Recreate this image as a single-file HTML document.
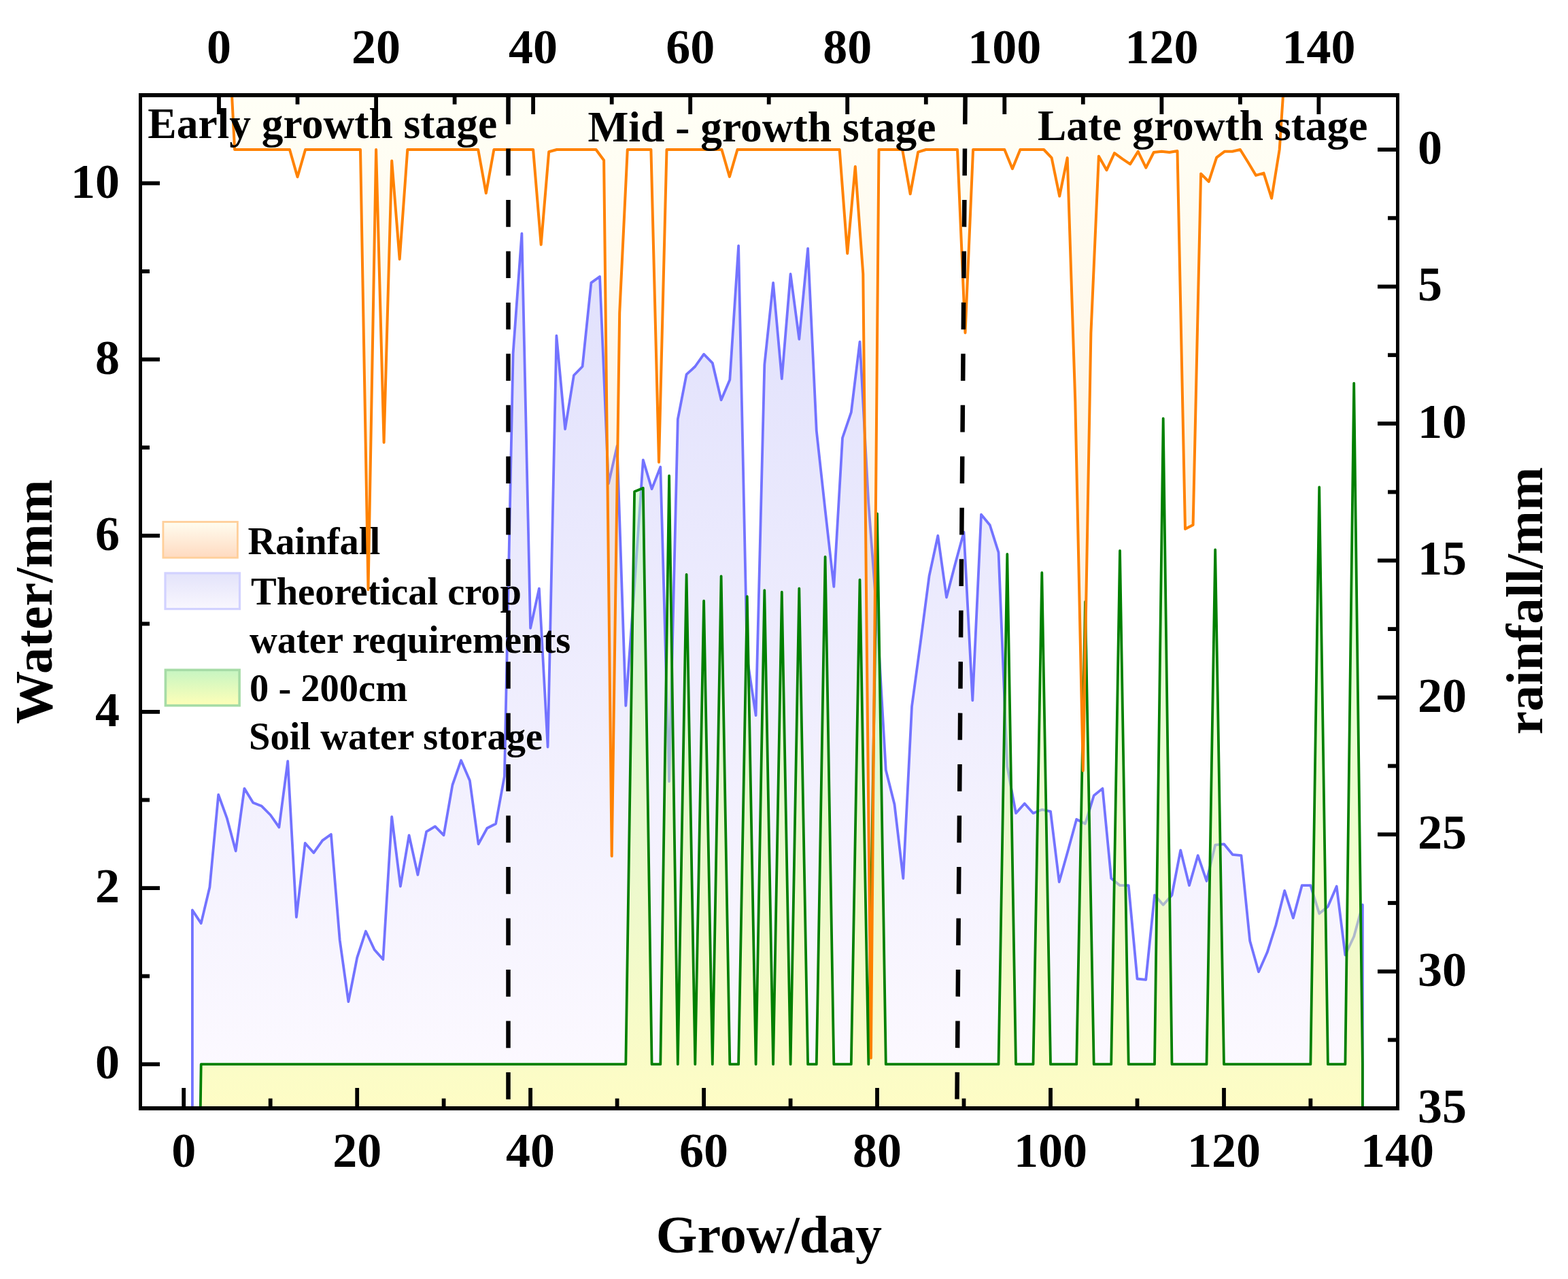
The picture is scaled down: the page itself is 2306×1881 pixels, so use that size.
<!DOCTYPE html>
<html><head><meta charset="utf-8"><title>Crop water chart</title>
<style>html,body{margin:0;padding:0;background:#fff;}svg{display:block;}</style>
</head><body>
<svg xmlns="http://www.w3.org/2000/svg" width="2306" height="1881" viewBox="0 0 2306 1881">
<defs>
<clipPath id="pc"><rect x="209" y="143" width="1844" height="1484"/></clipPath>
<linearGradient id="gb" gradientUnits="userSpaceOnUse" x1="0" y1="340" x2="0" y2="1630">
<stop offset="0" stop-color="#E0E0FC"/><stop offset="1" stop-color="#FDFAFF"/></linearGradient>
<linearGradient id="gg" gradientUnits="userSpaceOnUse" x1="0" y1="560" x2="0" y2="1630">
<stop offset="0" stop-color="#AAFFBE"/><stop offset="1" stop-color="#FFFF8C"/></linearGradient>
<linearGradient id="go" gradientUnits="userSpaceOnUse" x1="0" y1="143" x2="0" y2="1560">
<stop offset="0" stop-color="#FFFFD2"/><stop offset="1" stop-color="#FF8000"/></linearGradient>
<linearGradient id="lo" x1="0" y1="0" x2="0" y2="1">
<stop offset="0" stop-color="#FFFDF0"/><stop offset="1" stop-color="#FFDAC0"/></linearGradient>
<linearGradient id="lb" x1="0" y1="0" x2="0" y2="1">
<stop offset="0" stop-color="#E3E3FA"/><stop offset="1" stop-color="#F9F7FE"/></linearGradient>
<linearGradient id="lg" x1="0" y1="0" x2="0" y2="1">
<stop offset="0" stop-color="#C6F5C2"/><stop offset="1" stop-color="#FFFFB8"/></linearGradient>
</defs>
<rect width="2306" height="1881" fill="#fff"/>
<g clip-path="url(#pc)" stroke-linejoin="round">
<polygon points="282.9,1700 282.9,1338.5 295.7,1357.9 308.4,1304.8 321.2,1168.7 333.9,1203.7 346.7,1251.6 359.4,1159.6 372.2,1180.4 384.9,1185.6 397.7,1198.5 410.4,1216.7 423.2,1119.5 435.9,1348.8 448.7,1240 461.4,1254.2 474.2,1236.1 486.9,1227 499.7,1382.5 512.4,1473.2 525.2,1408.4 537.9,1369.5 550.7,1396.8 563.4,1411 576.2,1201.1 588.9,1303.5 601.6,1228.3 614.4,1286.6 627.1,1223.1 639.9,1215.4 652.6,1228.3 665.4,1154.5 678.1,1118.2 690.9,1148 703.6,1241.3 716.4,1218 729.1,1211.5 741.9,1141.5 754.6,519.6 767.4,343.4 780.1,923.8 792.9,865.5 805.6,1098.7 818.4,493.7 831.1,631 843.9,552 856.6,539 869.4,415.9 882.1,406.8 894.9,711.3 907.6,655.6 920.3,1037.9 933.1,861.6 945.8,676.3 958.6,719.1 971.3,686.7 984.1,1149.3 996.8,616.7 1009.6,550.7 1022.3,539 1035.1,520.9 1047.8,533.8 1060.6,588.2 1073.3,558.4 1086.1,361.5 1098.8,967.9 1111.6,1052.1 1124.3,536.4 1137.1,415.9 1149.8,557.1 1162.6,403 1175.3,498.8 1188.1,365.4 1200.8,633.6 1213.6,750.2 1226.3,862.9 1239,644 1251.8,606.4 1264.5,502.7 1277.3,739.8 1290,910.9 1302.8,1132.4 1315.5,1183 1328.3,1291.8 1341,1039.1 1353.8,944.6 1366.5,847.4 1379.3,787.8 1392,878.5 1404.8,829.2 1417.5,782.6 1430.3,1030.1 1443,756.7 1455.8,772.2 1468.5,812.4 1481.3,1127.3 1494,1195.9 1506.8,1181.7 1519.5,1195.9 1532.3,1190.7 1545,1193.3 1557.7,1297 1570.5,1251.6 1583.2,1205 1596,1211.5 1608.7,1170 1621.5,1159.6 1634.2,1291.8 1647,1302.2 1659.7,1302.2 1672.5,1439.5 1685.2,1440.8 1698,1316.4 1710.7,1330.7 1723.5,1316.4 1736.2,1250.3 1749,1302.2 1761.7,1258.1 1774.5,1295.7 1787.2,1242.6 1800,1241.3 1812.7,1256.8 1825.5,1258.1 1838.2,1383.8 1851,1429.2 1863.7,1400.6 1876.4,1360.5 1889.2,1309.9 1901.9,1350.1 1914.7,1302.2 1927.4,1302.2 1940.2,1343.6 1952.9,1333.3 1965.7,1303.5 1978.4,1404.5 1991.2,1377.3 2003.9,1330.7 2003.9,1700" fill="url(#gb)"/>
<polyline points="282.9,1700 282.9,1338.5 295.7,1357.9 308.4,1304.8 321.2,1168.7 333.9,1203.7 346.7,1251.6 359.4,1159.6 372.2,1180.4 384.9,1185.6 397.7,1198.5 410.4,1216.7 423.2,1119.5 435.9,1348.8 448.7,1240 461.4,1254.2 474.2,1236.1 486.9,1227 499.7,1382.5 512.4,1473.2 525.2,1408.4 537.9,1369.5 550.7,1396.8 563.4,1411 576.2,1201.1 588.9,1303.5 601.6,1228.3 614.4,1286.6 627.1,1223.1 639.9,1215.4 652.6,1228.3 665.4,1154.5 678.1,1118.2 690.9,1148 703.6,1241.3 716.4,1218 729.1,1211.5 741.9,1141.5 754.6,519.6 767.4,343.4 780.1,923.8 792.9,865.5 805.6,1098.7 818.4,493.7 831.1,631 843.9,552 856.6,539 869.4,415.9 882.1,406.8 894.9,711.3 907.6,655.6 920.3,1037.9 933.1,861.6 945.8,676.3 958.6,719.1 971.3,686.7 984.1,1149.3 996.8,616.7 1009.6,550.7 1022.3,539 1035.1,520.9 1047.8,533.8 1060.6,588.2 1073.3,558.4 1086.1,361.5 1098.8,967.9 1111.6,1052.1 1124.3,536.4 1137.1,415.9 1149.8,557.1 1162.6,403 1175.3,498.8 1188.1,365.4 1200.8,633.6 1213.6,750.2 1226.3,862.9 1239,644 1251.8,606.4 1264.5,502.7 1277.3,739.8 1290,910.9 1302.8,1132.4 1315.5,1183 1328.3,1291.8 1341,1039.1 1353.8,944.6 1366.5,847.4 1379.3,787.8 1392,878.5 1404.8,829.2 1417.5,782.6 1430.3,1030.1 1443,756.7 1455.8,772.2 1468.5,812.4 1481.3,1127.3 1494,1195.9 1506.8,1181.7 1519.5,1195.9 1532.3,1190.7 1545,1193.3 1557.7,1297 1570.5,1251.6 1583.2,1205 1596,1211.5 1608.7,1170 1621.5,1159.6 1634.2,1291.8 1647,1302.2 1659.7,1302.2 1672.5,1439.5 1685.2,1440.8 1698,1316.4 1710.7,1330.7 1723.5,1316.4 1736.2,1250.3 1749,1302.2 1761.7,1258.1 1774.5,1295.7 1787.2,1242.6 1800,1241.3 1812.7,1256.8 1825.5,1258.1 1838.2,1383.8 1851,1429.2 1863.7,1400.6 1876.4,1360.5 1889.2,1309.9 1901.9,1350.1 1914.7,1302.2 1927.4,1302.2 1940.2,1343.6 1952.9,1333.3 1965.7,1303.5 1978.4,1404.5 1991.2,1377.3 2003.9,1330.7 2003.9,1700" fill="none" stroke="#7373FF" stroke-width="3.8"/>
<polygon points="293.8,1700 295.7,1565.2 308.4,1565.2 321.2,1565.2 333.9,1565.2 346.7,1565.2 359.4,1565.2 372.2,1565.2 384.9,1565.2 397.7,1565.2 410.4,1565.2 423.2,1565.2 435.9,1565.2 448.7,1565.2 461.4,1565.2 474.2,1565.2 486.9,1565.2 499.7,1565.2 512.4,1565.2 525.2,1565.2 537.9,1565.2 550.7,1565.2 563.4,1565.2 576.2,1565.2 588.9,1565.2 601.6,1565.2 614.4,1565.2 627.1,1565.2 639.9,1565.2 652.6,1565.2 665.4,1565.2 678.1,1565.2 690.9,1565.2 703.6,1565.2 716.4,1565.2 729.1,1565.2 741.9,1565.2 754.6,1565.2 767.4,1565.2 780.1,1565.2 792.9,1565.2 805.6,1565.2 818.4,1565.2 831.1,1565.2 843.9,1565.2 856.6,1565.2 869.4,1565.2 882.1,1565.2 894.9,1565.2 907.6,1565.2 920.3,1565.2 933.1,723 945.8,717.8 958.6,1565.2 971.3,1565.2 984.1,699.7 996.8,1565.2 1009.6,844.8 1022.3,1565.2 1035.1,883.7 1047.8,1565.2 1060.6,847.4 1073.3,1565.2 1086.1,1565.2 1098.8,877.2 1111.6,1565.2 1124.3,868.1 1137.1,1565.2 1149.8,870.7 1162.6,1565.2 1175.3,865.5 1188.1,1565.2 1200.8,1565.2 1213.6,818.9 1226.3,1565.2 1239,1565.2 1251.8,1565.2 1264.5,852.6 1277.3,1565.2 1290,755.4 1302.8,1565.2 1315.5,1565.2 1328.3,1565.2 1341,1565.2 1353.8,1565.2 1366.5,1565.2 1379.3,1565.2 1392,1565.2 1404.8,1565.2 1417.5,1565.2 1430.3,1565.2 1443,1565.2 1455.8,1565.2 1468.5,1565.2 1481.3,815 1494,1565.2 1506.8,1565.2 1519.5,1565.2 1532.3,842.2 1545,1565.2 1557.7,1565.2 1570.5,1565.2 1583.2,1565.2 1596,885 1608.7,1565.2 1621.5,1565.2 1634.2,1565.2 1647,809.8 1659.7,1565.2 1672.5,1565.2 1685.2,1565.2 1698,1565.2 1710.7,615.5 1723.5,1565.2 1736.2,1565.2 1749,1565.2 1761.7,1565.2 1774.5,1565.2 1787.2,808.5 1800,1565.2 1812.7,1565.2 1825.5,1565.2 1838.2,1565.2 1851,1565.2 1863.7,1565.2 1876.4,1565.2 1889.2,1565.2 1901.9,1565.2 1914.7,1565.2 1927.4,1565.2 1940.2,716.5 1952.9,1565.2 1965.7,1565.2 1978.4,1565.2 1991.2,563.6 2003.9,1565.2 2003.9,1700" fill="url(#gg)" fill-opacity="0.5"/>
<polyline points="293.8,1700 295.7,1565.2 308.4,1565.2 321.2,1565.2 333.9,1565.2 346.7,1565.2 359.4,1565.2 372.2,1565.2 384.9,1565.2 397.7,1565.2 410.4,1565.2 423.2,1565.2 435.9,1565.2 448.7,1565.2 461.4,1565.2 474.2,1565.2 486.9,1565.2 499.7,1565.2 512.4,1565.2 525.2,1565.2 537.9,1565.2 550.7,1565.2 563.4,1565.2 576.2,1565.2 588.9,1565.2 601.6,1565.2 614.4,1565.2 627.1,1565.2 639.9,1565.2 652.6,1565.2 665.4,1565.2 678.1,1565.2 690.9,1565.2 703.6,1565.2 716.4,1565.2 729.1,1565.2 741.9,1565.2 754.6,1565.2 767.4,1565.2 780.1,1565.2 792.9,1565.2 805.6,1565.2 818.4,1565.2 831.1,1565.2 843.9,1565.2 856.6,1565.2 869.4,1565.2 882.1,1565.2 894.9,1565.2 907.6,1565.2 920.3,1565.2 933.1,723 945.8,717.8 958.6,1565.2 971.3,1565.2 984.1,699.7 996.8,1565.2 1009.6,844.8 1022.3,1565.2 1035.1,883.7 1047.8,1565.2 1060.6,847.4 1073.3,1565.2 1086.1,1565.2 1098.8,877.2 1111.6,1565.2 1124.3,868.1 1137.1,1565.2 1149.8,870.7 1162.6,1565.2 1175.3,865.5 1188.1,1565.2 1200.8,1565.2 1213.6,818.9 1226.3,1565.2 1239,1565.2 1251.8,1565.2 1264.5,852.6 1277.3,1565.2 1290,755.4 1302.8,1565.2 1315.5,1565.2 1328.3,1565.2 1341,1565.2 1353.8,1565.2 1366.5,1565.2 1379.3,1565.2 1392,1565.2 1404.8,1565.2 1417.5,1565.2 1430.3,1565.2 1443,1565.2 1455.8,1565.2 1468.5,1565.2 1481.3,815 1494,1565.2 1506.8,1565.2 1519.5,1565.2 1532.3,842.2 1545,1565.2 1557.7,1565.2 1570.5,1565.2 1583.2,1565.2 1596,885 1608.7,1565.2 1621.5,1565.2 1634.2,1565.2 1647,809.8 1659.7,1565.2 1672.5,1565.2 1685.2,1565.2 1698,1565.2 1710.7,615.5 1723.5,1565.2 1736.2,1565.2 1749,1565.2 1761.7,1565.2 1774.5,1565.2 1787.2,808.5 1800,1565.2 1812.7,1565.2 1825.5,1565.2 1838.2,1565.2 1851,1565.2 1863.7,1565.2 1876.4,1565.2 1889.2,1565.2 1901.9,1565.2 1914.7,1565.2 1927.4,1565.2 1940.2,716.5 1952.9,1565.2 1965.7,1565.2 1978.4,1565.2 1991.2,563.6 2003.9,1565.2 2003.9,1700" fill="none" stroke="#008000" stroke-width="3.8"/>
</g>
<g font-family="Liberation Serif, Times New Roman, serif" font-weight="bold" font-size="56.5" fill="#000">
<rect x="239.9" y="767.5" width="109.5" height="52.7" fill="url(#lo)" stroke="#FFCF9A" stroke-width="2.8"/>
<rect x="243" y="842.9" width="109.5" height="52.7" fill="url(#lb)" stroke="#D2D2FF" stroke-width="3.2"/>
<rect x="243.4" y="985.3" width="108.7" height="52.3" fill="url(#lg)" stroke="#A6DCA6" stroke-width="3.6"/>
<text x="364.5" y="814.5">Rainfall</text>
<text x="369" y="888.8">Theoretical crop</text>
<text x="367" y="959.7">water requirements</text>
<text x="367" y="1031">0 - 200cm</text>
<text x="366" y="1102.2">Soil water storage</text>
</g>
<g clip-path="url(#pc)" stroke-linejoin="round">
<polygon points="333.6,-5.6 345.1,220 356.7,220 368.2,220 379.8,220 391.3,220 402.9,220 414.4,220 426,220 437.5,260.3 449.1,220 460.6,220 472.2,220 483.7,220 495.3,220 506.8,220 518.4,220 530,220 541.5,867.1 553.1,220 564.6,650.7 576.2,236.5 587.7,381.2 599.3,220 610.8,220 622.4,220 633.9,220 645.5,220 657,220 668.6,220 680.1,220 691.7,220 703.2,220 714.8,284.1 726.4,220 737.9,220 749.5,220 761,220 772.6,220 784.1,220 795.7,359.8 807.2,223.2 818.8,220 830.3,220 841.9,220 853.4,220 865,220 876.5,220 888.1,235.7 899.7,1259.1 911.2,460.1 922.8,220 934.3,220 945.9,220 957.4,220 969,679.7 980.5,220 992.1,220 1003.6,220 1015.2,220 1026.7,220 1038.3,220 1049.8,220 1061.4,220 1072.9,259.9 1084.5,220 1096.1,220 1107.6,220 1119.2,220 1130.7,220 1142.3,220 1153.8,220 1165.4,220 1176.9,220 1188.5,220 1200,220 1211.6,220 1223.1,220 1234.7,220 1246.2,372.7 1257.8,245 1269.3,402.9 1280.9,1556 1292.5,220 1304,220 1315.6,220 1327.1,220 1338.7,285.3 1350.2,223.6 1361.8,220 1373.3,220 1384.9,220 1396.4,220 1408,220 1419.5,489.5 1431.1,220 1442.6,220 1454.2,220 1465.7,220 1477.3,220 1488.9,248.2 1500.4,220 1512,220 1523.5,220 1535.1,220 1546.6,232.1 1558.2,288.5 1569.7,232.1 1581.3,590.7 1592.8,1133.4 1604.4,489.9 1615.9,229.7 1627.5,250.2 1639,225.2 1650.6,233.7 1662.1,241.4 1673.7,222.8 1685.3,246.6 1696.8,224 1708.4,222.8 1719.9,224 1731.5,222 1743,778 1754.6,772 1766.1,255.5 1777.7,267.1 1789.2,231.7 1800.8,222.8 1812.3,222.8 1823.9,220 1835.4,238.5 1847,257.9 1858.5,254.6 1870.1,291.7 1881.7,220 1893.2,46.8" fill="url(#go)" fill-opacity="0.2"/>
<polyline points="333.6,-5.6 345.1,220 356.7,220 368.2,220 379.8,220 391.3,220 402.9,220 414.4,220 426,220 437.5,260.3 449.1,220 460.6,220 472.2,220 483.7,220 495.3,220 506.8,220 518.4,220 530,220 541.5,867.1 553.1,220 564.6,650.7 576.2,236.5 587.7,381.2 599.3,220 610.8,220 622.4,220 633.9,220 645.5,220 657,220 668.6,220 680.1,220 691.7,220 703.2,220 714.8,284.1 726.4,220 737.9,220 749.5,220 761,220 772.6,220 784.1,220 795.7,359.8 807.2,223.2 818.8,220 830.3,220 841.9,220 853.4,220 865,220 876.5,220 888.1,235.7 899.7,1259.1 911.2,460.1 922.8,220 934.3,220 945.9,220 957.4,220 969,679.7 980.5,220 992.1,220 1003.6,220 1015.2,220 1026.7,220 1038.3,220 1049.8,220 1061.4,220 1072.9,259.9 1084.5,220 1096.1,220 1107.6,220 1119.2,220 1130.7,220 1142.3,220 1153.8,220 1165.4,220 1176.9,220 1188.5,220 1200,220 1211.6,220 1223.1,220 1234.7,220 1246.2,372.7 1257.8,245 1269.3,402.9 1280.9,1556 1292.5,220 1304,220 1315.6,220 1327.1,220 1338.7,285.3 1350.2,223.6 1361.8,220 1373.3,220 1384.9,220 1396.4,220 1408,220 1419.5,489.5 1431.1,220 1442.6,220 1454.2,220 1465.7,220 1477.3,220 1488.9,248.2 1500.4,220 1512,220 1523.5,220 1535.1,220 1546.6,232.1 1558.2,288.5 1569.7,232.1 1581.3,590.7 1592.8,1133.4 1604.4,489.9 1615.9,229.7 1627.5,250.2 1639,225.2 1650.6,233.7 1662.1,241.4 1673.7,222.8 1685.3,246.6 1696.8,224 1708.4,222.8 1719.9,224 1731.5,222 1743,778 1754.6,772 1766.1,255.5 1777.7,267.1 1789.2,231.7 1800.8,222.8 1812.3,222.8 1823.9,220 1835.4,238.5 1847,257.9 1858.5,254.6 1870.1,291.7 1881.7,220 1893.2,46.8" fill="none" stroke="#FF8200" stroke-width="4"/>
<line x1="747.5" y1="143" x2="747.5" y2="1627" stroke="#000" stroke-width="6.5" stroke-dasharray="39.7 35.77"/>
<line x1="1419.6" y1="143" x2="1407.4" y2="1627" stroke="#000" stroke-width="6.5" stroke-dasharray="39.7 35.77"/>
</g>
<g font-family="Liberation Serif, Times New Roman, serif" font-weight="bold" font-size="63.5" fill="#000">
<text x="217.3" y="203.2">Early growth stage</text>
<text x="864.4" y="207.7">Mid - growth stage</text>
<text x="1525.9" y="206.2">Late growth stage</text>
</g>
<g fill="#000">
<rect x="204" y="137" width="1854" height="6"/>
<rect x="204" y="1627" width="1854" height="6"/>
<rect x="204" y="137" width="5" height="1496"/>
<rect x="2053" y="137" width="5" height="1496"/>
<rect x="209" y="1562.3" width="26" height="5.8"/>
<rect x="209" y="1432.7" width="11" height="5.8"/>
<rect x="209" y="1303.2" width="26" height="5.8"/>
<rect x="209" y="1173.6" width="11" height="5.8"/>
<rect x="209" y="1044" width="26" height="5.8"/>
<rect x="209" y="914.5" width="11" height="5.8"/>
<rect x="209" y="784.9" width="26" height="5.8"/>
<rect x="209" y="655.3" width="11" height="5.8"/>
<rect x="209" y="525.7" width="26" height="5.8"/>
<rect x="209" y="396.2" width="11" height="5.8"/>
<rect x="209" y="266.6" width="26" height="5.8"/>
<rect x="2026" y="217.1" width="27" height="5.8"/>
<rect x="2041" y="317.8" width="12" height="5.8"/>
<rect x="2026" y="418.6" width="27" height="5.8"/>
<rect x="2041" y="519.3" width="12" height="5.8"/>
<rect x="2026" y="620" width="27" height="5.8"/>
<rect x="2041" y="720.7" width="12" height="5.8"/>
<rect x="2026" y="821.5" width="27" height="5.8"/>
<rect x="2041" y="922.2" width="12" height="5.8"/>
<rect x="2026" y="1022.9" width="27" height="5.8"/>
<rect x="2041" y="1123.6" width="12" height="5.8"/>
<rect x="2026" y="1224.3" width="27" height="5.8"/>
<rect x="2041" y="1325.1" width="12" height="5.8"/>
<rect x="2026" y="1425.8" width="27" height="5.8"/>
<rect x="2041" y="1526.5" width="12" height="5.8"/>
<rect x="267.3" y="1600" width="5.8" height="27"/>
<rect x="394.8" y="1615.5" width="5.8" height="11.5"/>
<rect x="522.3" y="1600" width="5.8" height="27"/>
<rect x="649.7" y="1615.5" width="5.8" height="11.5"/>
<rect x="777.2" y="1600" width="5.8" height="27"/>
<rect x="904.7" y="1615.5" width="5.8" height="11.5"/>
<rect x="1032.2" y="1600" width="5.8" height="27"/>
<rect x="1159.7" y="1615.5" width="5.8" height="11.5"/>
<rect x="1287.1" y="1600" width="5.8" height="27"/>
<rect x="1414.6" y="1615.5" width="5.8" height="11.5"/>
<rect x="1542.1" y="1600" width="5.8" height="27"/>
<rect x="1669.6" y="1615.5" width="5.8" height="11.5"/>
<rect x="1797.1" y="1600" width="5.8" height="27"/>
<rect x="1924.5" y="1615.5" width="5.8" height="11.5"/>
<rect x="319.1" y="143" width="5.8" height="25"/>
<rect x="434.6" y="143" width="5.8" height="10.5"/>
<rect x="550.2" y="143" width="5.8" height="25"/>
<rect x="665.7" y="143" width="5.8" height="10.5"/>
<rect x="781.2" y="143" width="5.8" height="25"/>
<rect x="896.8" y="143" width="5.8" height="10.5"/>
<rect x="1012.3" y="143" width="5.8" height="25"/>
<rect x="1127.8" y="143" width="5.8" height="10.5"/>
<rect x="1243.3" y="143" width="5.8" height="25"/>
<rect x="1358.9" y="143" width="5.8" height="10.5"/>
<rect x="1474.4" y="143" width="5.8" height="25"/>
<rect x="1589.9" y="143" width="5.8" height="10.5"/>
<rect x="1705.5" y="143" width="5.8" height="25"/>
<rect x="1821" y="143" width="5.8" height="10.5"/>
<rect x="1936.5" y="143" width="5.8" height="25"/>
</g>
<g font-family="Liberation Serif, Times New Roman, serif" font-weight="bold" font-size="72" fill="#000">
<text x="322" y="92.5" text-anchor="middle">0</text>
<text x="270.2" y="1716" text-anchor="middle">0</text>
<text x="553.1" y="92.5" text-anchor="middle">20</text>
<text x="525.2" y="1716" text-anchor="middle">20</text>
<text x="784.1" y="92.5" text-anchor="middle">40</text>
<text x="780.1" y="1716" text-anchor="middle">40</text>
<text x="1015.2" y="92.5" text-anchor="middle">60</text>
<text x="1035.1" y="1716" text-anchor="middle">60</text>
<text x="1246.2" y="92.5" text-anchor="middle">80</text>
<text x="1290" y="1716" text-anchor="middle">80</text>
<text x="1477.3" y="92.5" text-anchor="middle">100</text>
<text x="1545" y="1716" text-anchor="middle">100</text>
<text x="1708.4" y="92.5" text-anchor="middle">120</text>
<text x="1800" y="1716" text-anchor="middle">120</text>
<text x="1939.4" y="92.5" text-anchor="middle">140</text>
<text x="2054.9" y="1716" text-anchor="middle">140</text>
<text x="176" y="1586.2" text-anchor="end">0</text>
<text x="176" y="1327.1" text-anchor="end">2</text>
<text x="176" y="1067.9" text-anchor="end">4</text>
<text x="176" y="808.8" text-anchor="end">6</text>
<text x="176" y="549.6" text-anchor="end">8</text>
<text x="176" y="290.5" text-anchor="end">10</text>
<text x="2085" y="241">0</text>
<text x="2085" y="442.4">5</text>
<text x="2085" y="643.9">10</text>
<text x="2085" y="845.4">15</text>
<text x="2085" y="1046.8">20</text>
<text x="2085" y="1248.2">25</text>
<text x="2085" y="1449.7">30</text>
<text x="2085" y="1651.1">35</text>
</g>
<g font-family="Liberation Serif, Times New Roman, serif" font-weight="bold" fill="#000">
<text x="1131" y="1841.7" font-size="78" text-anchor="middle">Grow/day</text>
<text transform="translate(76.3,885) rotate(-90)" font-size="78" text-anchor="middle">Water/mm</text>
<text transform="translate(2267.9,883.6) rotate(-90)" font-size="77" text-anchor="middle">rainfall/mm</text>
</g>
</svg>
</body></html>
